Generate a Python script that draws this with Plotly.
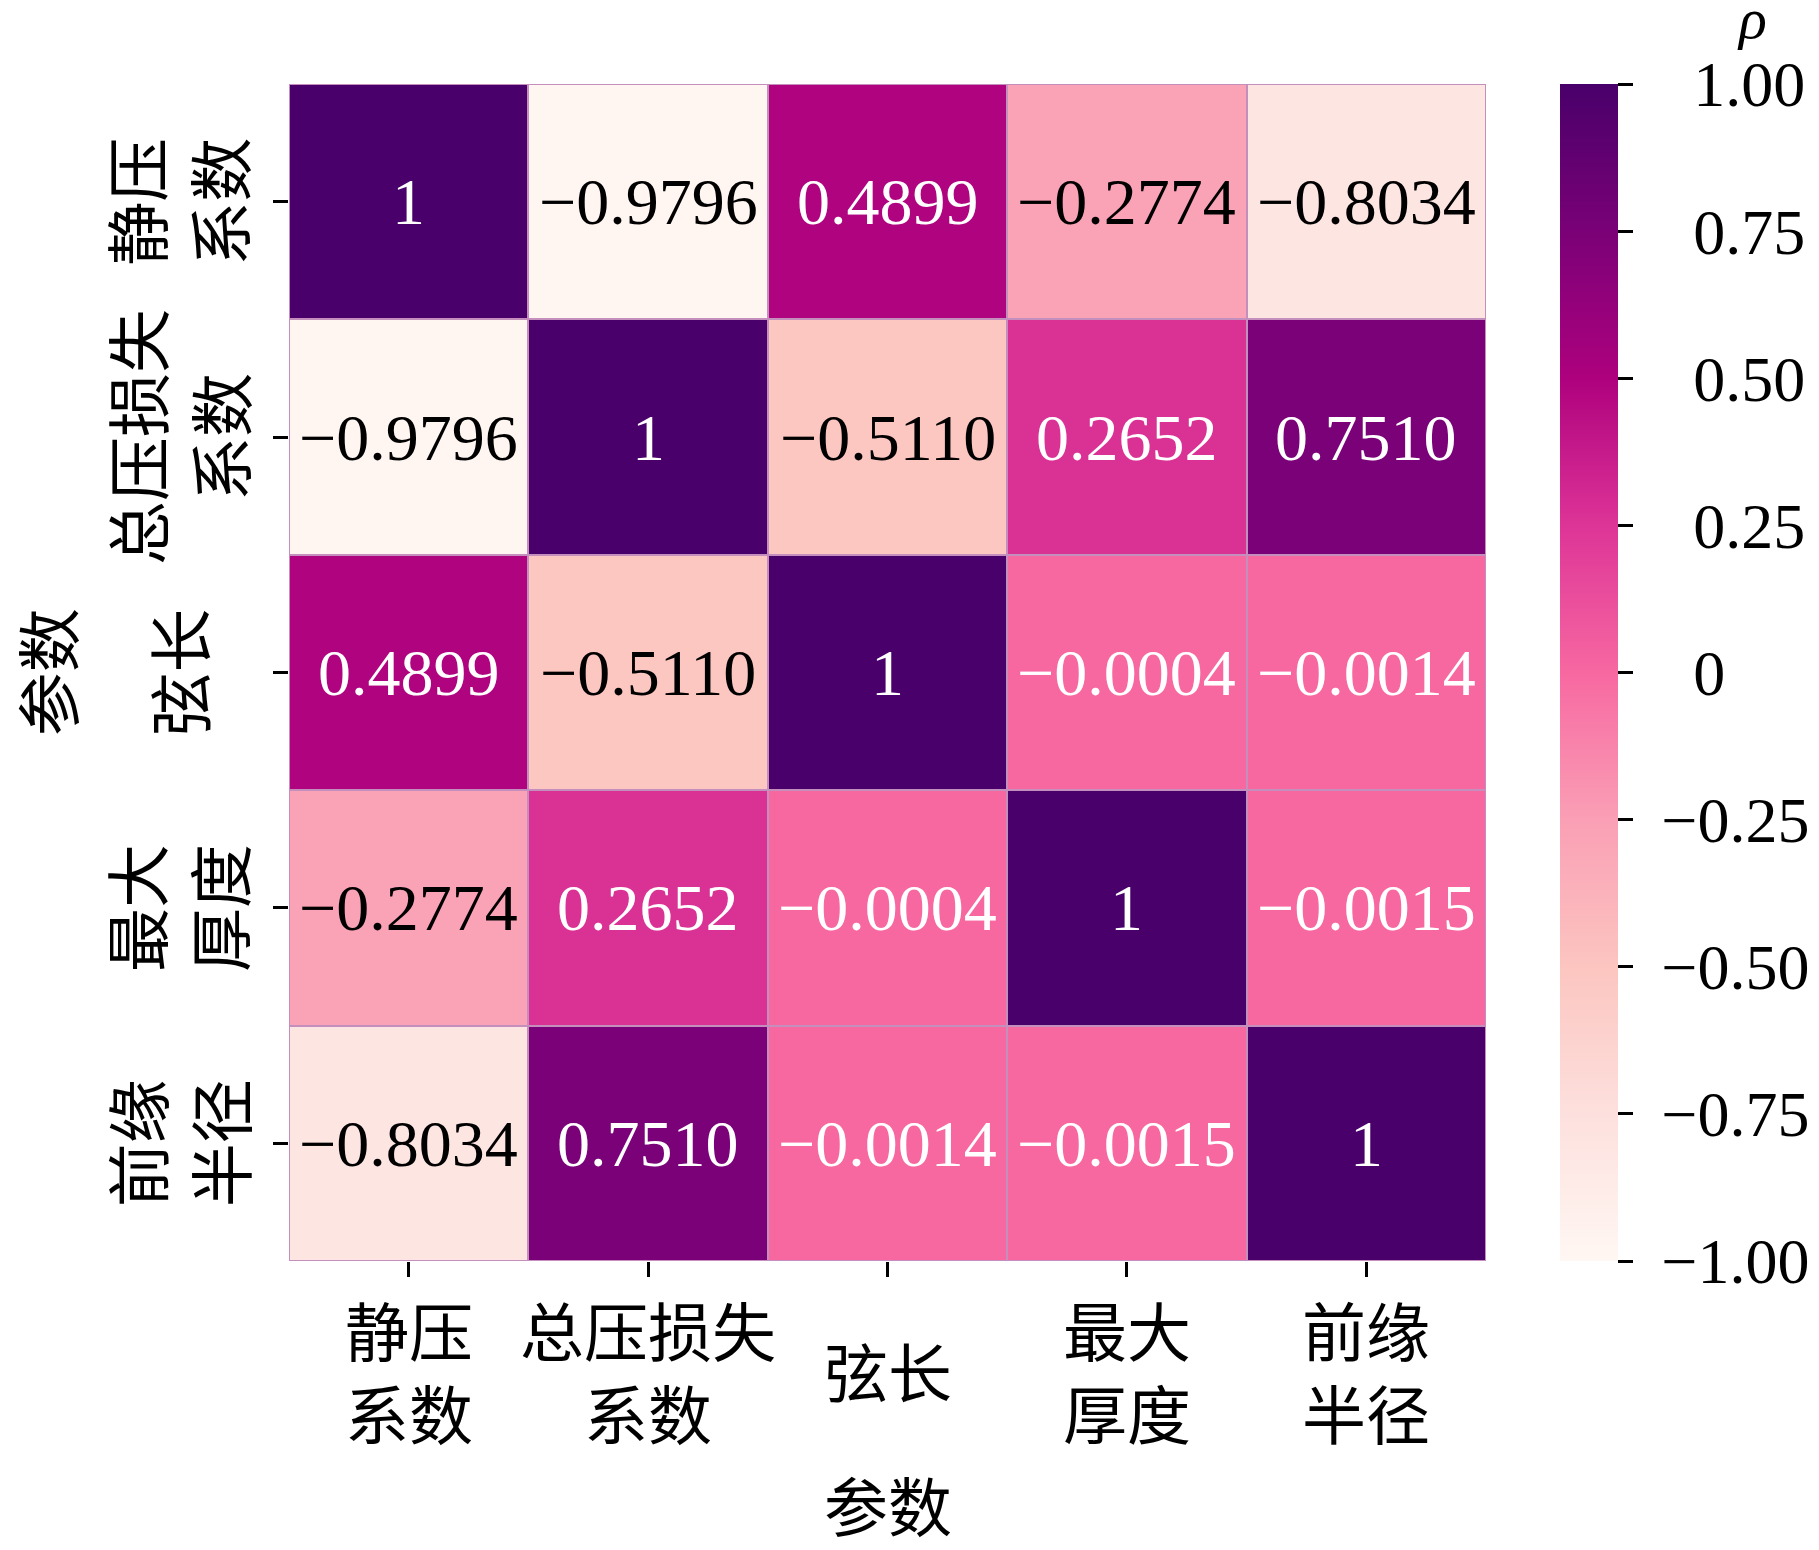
import plotly.graph_objects as go

params = ["静压系数", "总压损失系数", "弦长", "最大厚度", "前缘半径"]
tick_labels = ["静压<br>系数", "总压损失<br>系数", "弦长", "最大<br>厚度", "前缘<br>半径"]
row_0 = [1.0, -0.9796, 0.4899, -0.2774, -0.8034]
row_1 = [-0.9796, 1.0, -0.5110, 0.2652, 0.7510]
row_2 = [0.4899, -0.5110, 1.0, -0.0004, -0.0014]
row_3 = [-0.2774, 0.2652, -0.0004, 1.0, -0.0015]
row_4 = [-0.8034, 0.7510, -0.0014, -0.0015, 1.0]
matrix = [row_0, row_1, row_2, row_3, row_4]
cbar_vals = [1.0, 0.75, 0.5, 0.25, 0.0, -0.25, -0.5, -0.75, -1.0]
cbar_text = ["1.00", "0.75", "0.50", "0.25", "0", "−0.25", "−0.50", "−0.75", "−1.00"]

SERIF = "Liberation Serif, Noto Sans CJK SC"
CJK = "Noto Sans CJK SC, Liberation Serif"

def fmt(v):
    if v == 1.0:
        return "1"
    return f"{v:.4f}".replace("-", "−")

def text_color(v):
    return "white" if v > -0.15 else "black"

cb_ticktext = [("\u2005" if t.startswith("−") else "\u2005\u2002") + t for t in cbar_text]

fig = go.Figure(go.Heatmap(
    z=matrix, x=params, y=params,
    colorscale="RdPu", zmin=-1, zmax=1,
    xgap=2, ygap=2,
    hoverinfo="skip",
    colorbar=dict(
        x=1.0618, xanchor="left", y=0.5, yanchor="middle",
        len=1.0, lenmode="fraction", thickness=58,
        xpad=0, ypad=0, outlinewidth=0,
        tickmode="array", tickvals=cbar_vals, ticktext=cb_ticktext,
        ticks="outside", ticklen=15, tickwidth=3, tickcolor="black",
        tickfont=dict(family=SERIF, size=64, color="black"),
    ),
))

annotations = []
for i, rname in enumerate(params):
    for j, cname in enumerate(params):
        v = matrix[i][j]
        annotations.append(dict(
            x=cname, y=rname, xref="x", yref="y", text=fmt(v), showarrow=False,
            font=dict(family=SERIF, size=66, color=text_color(v)),
        ))

for name, lab in zip(params, tick_labels):
    annotations.append(dict(
        x=name, xref="x", y=-0.0918, yref="paper", text=lab, showarrow=False,
        xanchor="center", yanchor="middle",
        font=dict(family=CJK, size=64, color="black"),
    ))
    annotations.append(dict(
        x=-0.0944, xref="paper", y=name, yref="y", text=lab, showarrow=False,
        textangle=-90, xanchor="center", yanchor="middle",
        font=dict(family=CJK, size=64, color="black"),
    ))

annotations.append(dict(x=0.5, xref="paper", y=-0.206, yref="paper", text="参数",
                        showarrow=False, xanchor="center", yanchor="middle",
                        font=dict(family=CJK, size=64, color="black")))
annotations.append(dict(x=-0.204, xref="paper", y=0.5, yref="paper", text="参数",
                        showarrow=False, textangle=-90, xanchor="center", yanchor="middle",
                        font=dict(family=CJK, size=64, color="black")))
annotations.append(dict(x=1.222, xref="paper", y=1.056, yref="paper", text="<i>ρ</i>",
                        showarrow=False, xanchor="center", yanchor="middle",
                        font=dict(family=SERIF, size=58, color="black")))

# the page body adds an 8 px offset; compensate so the plot area lands where it should
fig.update_layout(
    width=1811, height=1542,
    margin=dict(l=281, r=333, t=76, b=289, autoexpand=False),
    paper_bgcolor="white", plot_bgcolor="#c48fbd",
    annotations=annotations,
    showlegend=False,
)
fig.update_xaxes(showticklabels=False, ticks="outside", ticklen=15, tickwidth=3,
                 tickcolor="black", showgrid=False, zeroline=False, showline=False)
fig.update_yaxes(showticklabels=False, ticks="outside", ticklen=15, tickwidth=3,
                 tickcolor="black", showgrid=False, zeroline=False, showline=False,
                 autorange="reversed")

fig.write_html("out.html")
